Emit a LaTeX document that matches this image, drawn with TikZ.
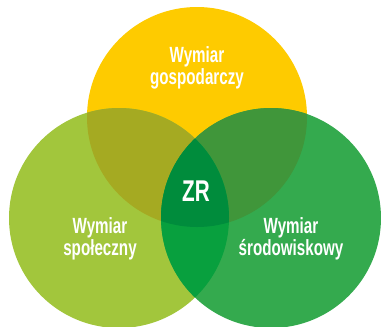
\documentclass[tikz,border=0pt]{standalone}
\usepackage{fontspec}
\newfontfamily\dimfont{Liberation Sans}[FakeStretch=0.69]
\definecolor{gold}{RGB}{254,203,0}
\definecolor{lime}{RGB}{162,198,60}
\definecolor{grass}{RGB}{52,170,78}
\definecolor{goldlime}{RGB}{165,170,34}
\definecolor{goldgrass}{RGB}{64,150,58}
\definecolor{limegrass}{RGB}{8,160,62}
\definecolor{allthree}{RGB}{0,140,60}
\tikzset{
  dimlabel/.style={text=white, align=center, inner sep=0pt,
    font=\dimfont\bfseries\fontsize{22}{22}\selectfont},
  zrlabel/.style={text=white, inner sep=0pt,
    font=\dimfont\bfseries\fontsize{30}{30}\selectfont}
}
\begin{document}
\begin{tikzpicture}[x=1pt, y=-1pt]
\def\rr{110pt};

\useasboundingbox (0,0) rectangle (381,327);

\coordinate (G) at (197,117);
\coordinate (S) at (119,218);
\coordinate (E) at (271,218);

% the three circles
\fill[gold] (G) circle (\rr);
\fill[lime] (S) circle (\rr);
\fill[grass] (E) circle (\rr);

% overlaps of two circles
\begin{scope}
\clip (G) circle (\rr);
\fill[goldlime] (S) circle (\rr);
\fill[goldgrass] (E) circle (\rr);
\end{scope}
\begin{scope}
\clip (S) circle (\rr);
\fill[limegrass] (E) circle (\rr);
\end{scope}

% overlap of all three
\begin{scope}
\clip (G) circle (\rr);
\clip (S) circle (\rr);
\fill[allthree] (E) circle (\rr);
\end{scope}

\node[dimlabel] (gosp) at (197,68) {Wymiar\\gospodarczy};
\node[dimlabel] (spol) at (100,239) {Wymiar\\społeczny};
\node[dimlabel] (srod) at (291,239) {Wymiar\\środowiskowy};
\node[zrlabel] (zr) at (196,191) {ZR};

\end{tikzpicture}
\end{document}
